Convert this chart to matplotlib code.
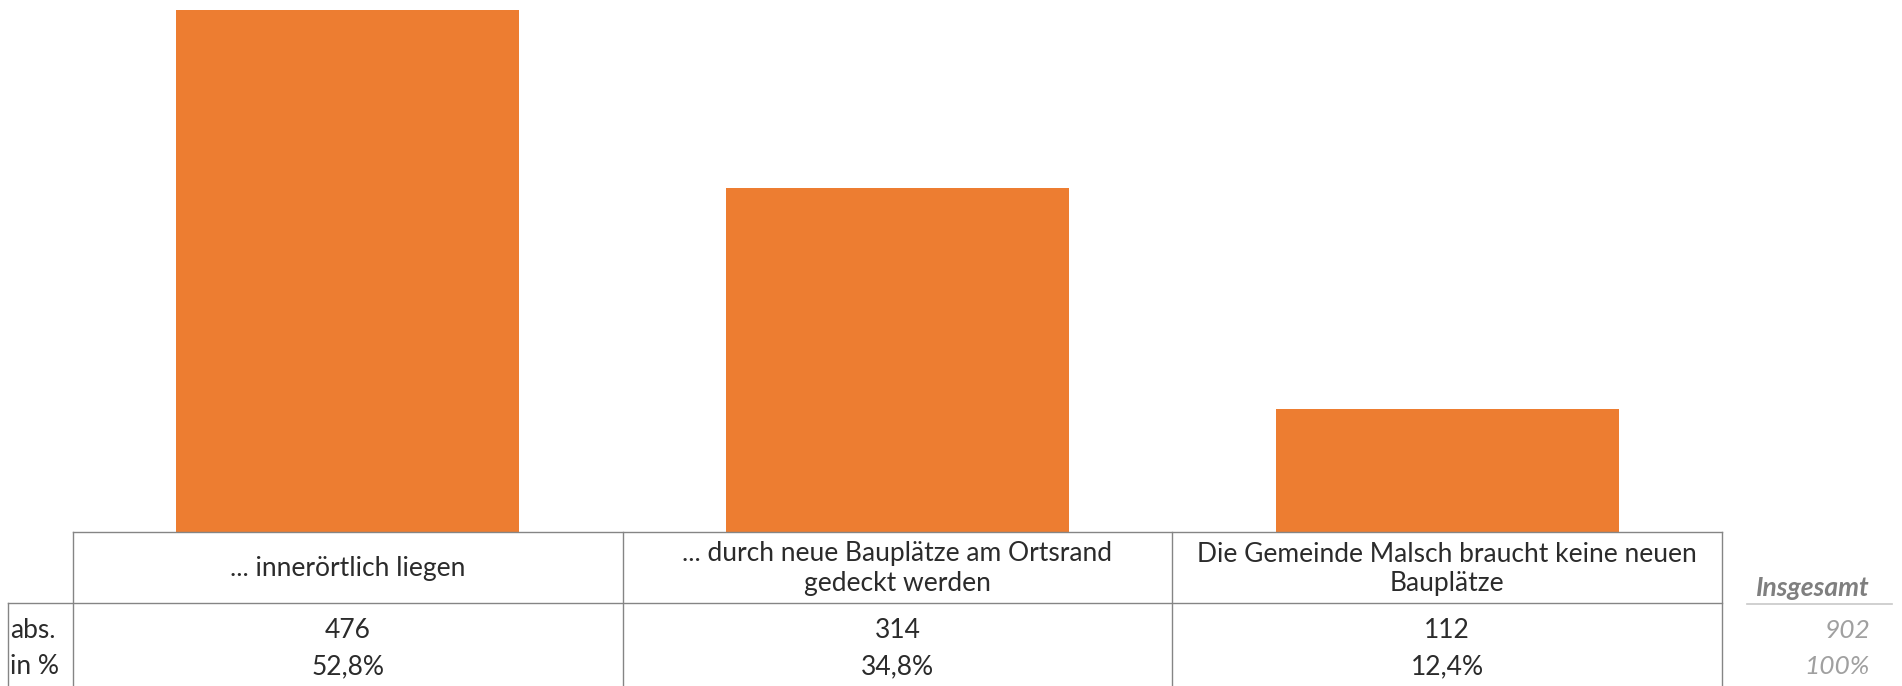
import numpy as np
import matplotlib.pyplot as plt

# data
categories = ['... innerörtlich liegen',
              '... durch neue Bauplätze am Ortsrand\ngedeckt werden',
              'Die Gemeinde Malsch braucht keine neuen\nBauplätze']
abs_values = [476, 314, 112]
pct_labels = ['52,8%', '34,8%', '12,4%']
row_labels = ['abs.', 'in %']
total_abs = '902'
total_pct = '100%'
total_title = 'Insgesamt'

orange = '#ED7D31'
grid_col = '#858585'
W, H = 1902, 686

plt.rcParams['font.family'] = ['Lato', 'DejaVu Sans']

fig = plt.figure(figsize=(W / 100, H / 100), dpi=100)

# bar axes: x 73..1722 px, y 0..532 px from top
left, right, top, base = 73, 1722, 0, 532
ax = fig.add_axes([left / W, (H - base) / H, (right - left) / W, (base - top) / H])
x = np.arange(len(categories))
ax.bar(x, abs_values, width=0.624, color=orange)
ax.set_xlim(-0.5, len(categories) - 0.5)
ax.set_ylim(0, max(abs_values) * 532 / 522)
ax.axis('off')

# table overlay in pixel coordinates
tb = fig.add_axes([0, 0, 1, 1])
tb.set_xlim(0, W)
tb.set_ylim(H, 0)
tb.axis('off')

col_w = (right - left) / len(categories)
edges = [left + i * col_w for i in range(len(categories) + 1)]
centers = [left + (i + 0.5) * col_w for i in range(len(categories))]
head_bot = 603
lw = 1.0
tb.plot([left, right], [base, base], color=grid_col, lw=lw)
tb.plot([8, right], [head_bot, head_bot], color=grid_col, lw=lw)
for e in edges:
    tb.plot([e, e], [base, H], color=grid_col, lw=lw)
tb.plot([8, 8], [head_bot, H], color=grid_col, lw=lw)

fs = 19
txt_col = '#2b2b2b'
row_y = [630, 667]
for i, c in enumerate(categories):
    tb.text(centers[i], (base + head_bot) / 2 + 1, c, ha='center', va='center',
            fontsize=fs, linespacing=1.2, color=txt_col)
    tb.text(centers[i], row_y[0], str(abs_values[i]), ha='center', va='center',
            fontsize=fs, color=txt_col)
    tb.text(centers[i], row_y[1], pct_labels[i], ha='center', va='center',
            fontsize=fs, color=txt_col)
for j, r in enumerate(row_labels):
    tb.text(10, row_y[j], r, ha='left', va='center', fontsize=fs, color=txt_col)

# totals column
tb.text(1870, 588, total_title, ha='right', va='center', fontsize=fs,
        fontweight='bold', style='italic', color='#7f7f7f')
tb.plot([1747, 1892], [604, 604], color='#c8c8c8', lw=1.2)
tb.text(1870, row_y[0], total_abs, ha='right', va='center', fontsize=fs,
        style='italic', color='#a0a0a0')
tb.text(1870, row_y[1], total_pct, ha='right', va='center', fontsize=fs,
        style='italic', color='#a0a0a0')

fig.savefig('out.png', dpi=100)
